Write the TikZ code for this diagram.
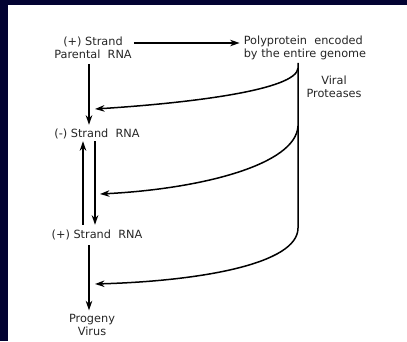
\documentclass[tikz,border=0pt]{standalone}
\usepackage{fontspec}
\setmainfont{DejaVu Sans}
\usetikzlibrary{arrows.meta}
\definecolor{navy}{RGB}{3,3,50}
\begin{document}
\begin{tikzpicture}[x=1pt,y=-1pt,
  lbl/.style={font=\fontsize{11.3}{12.5}\selectfont, align=center, inner sep=0pt, text=black!85},
  conn/.style={line width=1.5pt, -{Stealth[length=9.5pt,width=6.5pt,inset=3pt]}},
  plain/.style={line width=1.5pt}]
\useasboundingbox (0,0) rectangle (407,341);
\fill[navy] (0,0) rectangle (407,341);
\fill[white] (8,5) rectangle (407,341);
\node[lbl] (parent) at (93,48) {(+) Strand\\Parental\ \ RNA};
\node[lbl, align=left] (poly) at (305,48) {Polyprotein\ \ encoded\\by the entire genome};
\node[lbl] (viral) at (334,87) {Viral\\Proteases};
\node[lbl] (minus) at (97,134) {(-)\ Strand\ \ RNA};
\node[lbl] (plus) at (97,235) {(+)\ Strand\ \ RNA};
\node[lbl] (progeny) at (92,325) {Progeny\\Virus};
\coordinate (colA) at (89,0);
\coordinate (colL) at (83,0);
\coordinate (colR) at (95,0);
\coordinate (vx) at (298,0);
\coordinate (b1) at (298,68);
\coordinate (b2) at (298,126);
\coordinate (b3) at (298,228);
\coordinate (t1) at (95,109);
\coordinate (t2) at (100,194);
\coordinate (t3) at (95,284);
% horizontal
\draw[conn, shorten <=2pt, shorten >=4pt] ([yshift=5pt]parent.east) -- ([yshift=5pt]poly.west);
% verticals
\draw[conn, shorten <=5pt, shorten >=4pt] (parent.south -| colA) -- (minus.north -| colA);
\draw[conn, shorten <=5pt, shorten >=2pt] (plus.north -| colL) -- (minus.south -| colL);
\draw[conn, shorten <=2pt, shorten >=5pt] (minus.south -| colR) -- (plus.north -| colR);
\draw[conn, shorten <=5pt, shorten >=4pt] (plus.south -| colA) -- (progeny.north -| colA);
% protease line
\draw[conn] ([yshift=-3pt]poly.south -| vx) -- (b3) .. controls (298,264) and (200,281) .. (t3);
\draw[conn] (b1) .. controls (297,90) and (190,103) .. (t1);
\draw[conn] (b2) .. controls (296,165) and (200,189) .. (t2);
\end{tikzpicture}
\end{document}
